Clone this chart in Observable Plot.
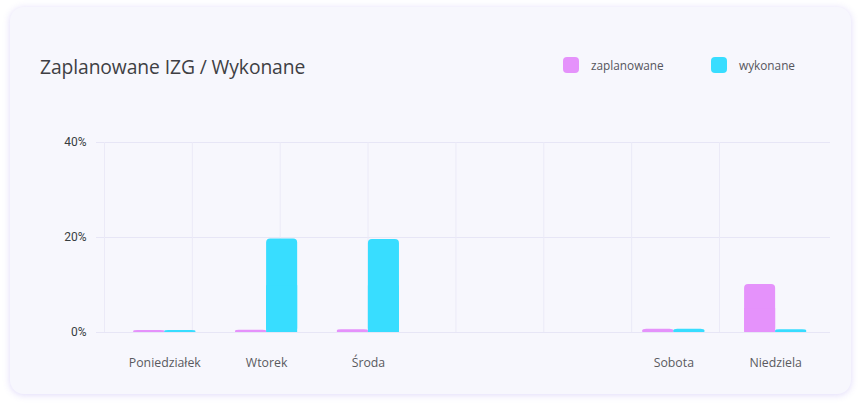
<!DOCTYPE html>
<html>
<head>
<meta charset="utf-8">
<script src="https://cdn.jsdelivr.net/npm/d3@7"></script>
<script src="https://cdn.jsdelivr.net/npm/@observablehq/plot@0.6"></script>
<style>
  html, body { margin: 0; padding: 0; background: #ffffff; }
  body { width: 858px; height: 405px; overflow: hidden; position: relative; font-family: "Open Sans", "Noto Sans", sans-serif; }
  #card { position: absolute; left: 10px; top: 7px; width: 841px; height: 387px; border-radius: 14px;
          background: #f7f7fd; box-shadow: 0 1px 7px rgba(150, 130, 235, 0.30); }
  #title { position: absolute; left: 40px; top: 53px; font-size: 19.3px; color: #3f3f44; white-space: nowrap; letter-spacing: -0.1px; }
  #legend { position: absolute; left: 0; top: 0; }
  .item { position: absolute; top: 57px; display: flex; align-items: center; white-space: nowrap; }
  .sw { width: 16px; height: 16px; border-radius: 4px; margin-right: 12px; }
  .lbl { font-size: 11.8px; color: #55555c; }
  .layer { position: absolute; left: 0; top: 100px; }
</style>
</head>
<body>
<div id="card"></div>
<div id="title">Zaplanowane IZG / Wykonane</div>
<div id="legend"></div>
<div id="bg" class="layer"></div>
<div id="fg" class="layer"></div>
<script>
// ---- data ----
const days = ["Poniedziałek", "Wtorek", "Środa", "Czwartek", "Piątek", "Sobota", "Niedziela"];
const dayLabels = ["Poniedziałek", "Wtorek", "Środa", "", "", "Sobota", "Niedziela"];
const series = ["zaplanowane", "wykonane"];
const colors = ["#e592fb", "#38ddff"];
const zaplanowane = [0.4, 0.5, 0.6, null, null, 0.7, 10.1];
const wykonane = [0.4, 19.7, 19.6, null, null, 0.7, 0.6];
const yTicks = [0, 20, 40];
const gridX = [0, 1, 2, 3, 4, 5, 6, 7];
const legendX = [563, 711];

const rows = days.flatMap((d, i) => [
  {day: d, series: series[0], value: zaplanowane[i]},
  {day: d, series: series[1], value: wykonane[i]}
]).filter(r => r.value != null);

// ---- legend ----
const legend = document.getElementById("legend");
series.forEach((s, i) => {
  const it = document.createElement("div");
  it.className = "item";
  it.style.left = legendX[i] + "px";
  it.innerHTML = `<div class="sw" style="background:${colors[i]}"></div><span class="lbl">${s}</span>`;
  legend.appendChild(it);
});

const W = 858, H = 290;
const M = {marginLeft: 96, marginRight: 28, marginTop: 42, marginBottom: 58};

// ---- background layer: grid + y axis ----
const bg = Plot.plot({
  width: W, height: H, ...M,
  style: {background: "transparent", overflow: "visible"},
  x: {domain: [0, 7], range: [104, 719], axis: null},
  y: {domain: [0, 40], axis: null},
  marks: [
    Plot.ruleY(yTicks, {y: d => d, stroke: "#e7e6f6", strokeWidth: 1}),
    Plot.ruleX(gridX, {x: d => d, y1: 0, y2: 40, stroke: "#ebeaf7", strokeWidth: 1}),
    Plot.axisY({ticks: yTicks, tickFormat: d => d + "%", tickSize: 0, tickPadding: 10, label: null,
                fontSize: 12, fontWeight: 400, fill: "#373d3f", fontFamily: "Roboto"})
  ]
});
document.getElementById("bg").appendChild(bg);

// ---- bars layer ----
const fg = Plot.plot({
  width: W, height: H, ...M,
  style: {background: "transparent", overflow: "visible"},
  fx: {domain: days, paddingInner: 0.39, paddingOuter: 0.3, align: 0.61, round: false, label: null, axis: null},
  x: {domain: series, padding: 0, round: false, axis: null},
  y: {domain: [0, 40], axis: null},
  color: {domain: series, range: colors},
  marks: [
    Plot.axisFx({anchor: "bottom", tickFormat: d => dayLabels[days.indexOf(d)], tickSize: 0, tickPadding: 26, label: null,
                 fontSize: 12.3, fill: "#5a5a60", fontFamily: "Open Sans"}),
    Plot.barY(rows, {fx: "day", x: "series", y: "value", fill: "series", rx: 4}),
    Plot.barY(rows, {fx: "day", x: "series", y: d => d.value / 2, fill: "series"})
  ]
});
document.getElementById("fg").appendChild(fg);
</script>
</body>
</html>
